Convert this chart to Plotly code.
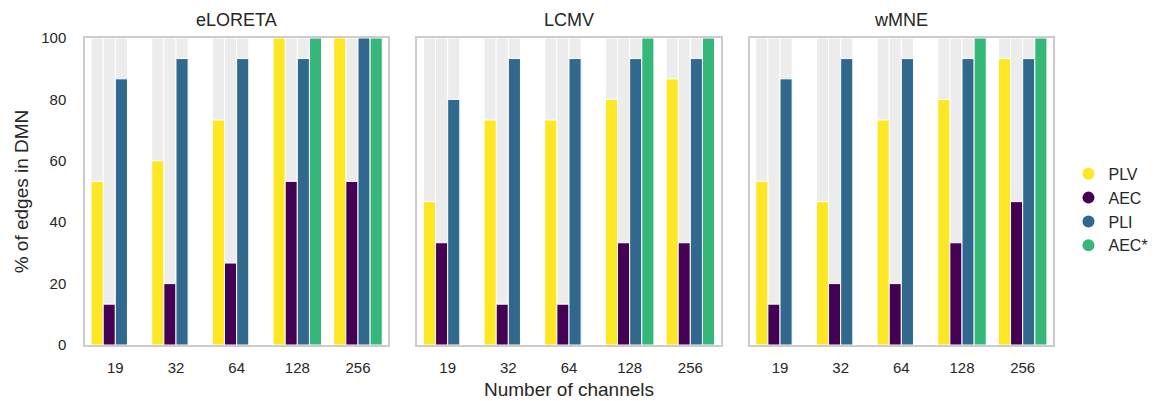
import plotly.graph_objects as go
from plotly.subplots import make_subplots

channels = ["19", "32", "64", "128", "256"]
methods = ["eLORETA", "LCMV", "wMNE"]
measures = ["PLV", "AEC", "PLI", "AEC*"]
colors = ["#fde725", "#440154", "#31688e", "#35b779"]

eloreta_plv = [53.3, 60.0, 73.3, 100.0, 100.0]
eloreta_aec = [13.3, 20.0, 26.7, 53.3, 53.3]
eloreta_pli = [86.7, 93.3, 93.3, 93.3, 100.0]
eloreta_aecs = [None, None, None, 100.0, 100.0]

lcmv_plv = [46.7, 73.3, 73.3, 80.0, 86.7]
lcmv_aec = [33.3, 13.3, 13.3, 33.3, 33.3]
lcmv_pli = [80.0, 93.3, 93.3, 93.3, 93.3]
lcmv_aecs = [None, None, None, 100.0, 100.0]

wmne_plv = [53.3, 46.7, 73.3, 80.0, 93.3]
wmne_aec = [13.3, 20.0, 20.0, 33.3, 46.7]
wmne_pli = [86.7, 93.3, 93.3, 93.3, 93.3]
wmne_aecs = [None, None, None, 100.0, 100.0]

data = {
    "eLORETA": [eloreta_plv, eloreta_aec, eloreta_pli, eloreta_aecs],
    "LCMV": [lcmv_plv, lcmv_aec, lcmv_pli, lcmv_aecs],
    "wMNE": [wmne_plv, wmne_aec, wmne_pli, wmne_aecs],
}
full_value = 100.0

fig = make_subplots(rows=1, cols=3, shared_yaxes=True, horizontal_spacing=0.03,
                    subplot_titles=methods)

for c, m in enumerate(methods, start=1):
    series = data[m]
    # background bars
    for k, (meas, vals) in enumerate(zip(measures, series)):
        bg = [full_value if v is not None else None for v in vals]
        fig.add_trace(go.Bar(x=channels, y=bg, offsetgroup=str(k),
                             marker=dict(color="#ececec", line=dict(color="white", width=1)),
                             showlegend=False, hoverinfo="skip"), row=1, col=c)
    for k, (meas, vals) in enumerate(zip(measures, series)):
        fig.add_trace(go.Bar(x=channels, y=vals, offsetgroup=str(k), name=meas,
                             marker=dict(color=colors[k], line=dict(color="white", width=1)),
                             showlegend=False), row=1, col=c)

for k, meas in enumerate(measures):
    fig.add_trace(go.Scatter(x=[None], y=[None], mode="markers", name=meas,
                             marker=dict(color=colors[k], size=9, symbol="circle")),
                  row=1, col=1)

fig.update_layout(
    width=1164, height=401,
    margin=dict(l=85, r=111, t=38, b=56, autoexpand=False),
    barmode="group", bargap=0.2, bargroupgap=0.0,
    plot_bgcolor="white", paper_bgcolor="white",
    font=dict(family="Liberation Sans, Arial, sans-serif", size=15, color="#262626"),
    legend=dict(x=1.016, y=0.44, xanchor="left", yanchor="middle",
                font=dict(size=16, color="#262626"), itemsizing="constant",
                tracegroupgap=0, bgcolor="rgba(0,0,0,0)"),
)

for c in range(1, 4):
    fig.update_xaxes(type="category", showline=True, mirror=True, linecolor="#cccccc",
                     linewidth=1.5, showgrid=False, ticks="", ticklabelstandoff=8,
                     automargin=False,
                     tickfont=dict(size=15, color="#262626"), row=1, col=c)
    fig.update_yaxes(range=[0, 100], showline=True, mirror=True, linecolor="#cccccc",
                     linewidth=1.5, showgrid=False, ticks="", tickvals=[0, 20, 40, 60, 80, 100],
                     ticklabelstandoff=14, tickfont=dict(size=15, color="#262626"),
                     automargin=False, zeroline=False, row=1, col=c)

fig.update_xaxes(title=dict(text="Number of channels", font=dict(size=19, color="#262626"),
                            standoff=8), row=1, col=2)
fig.update_yaxes(title=dict(text="% of edges in DMN", font=dict(size=19, color="#262626"),
                            standoff=8), row=1, col=1)

for ann in fig.layout.annotations:
    ann.font = dict(size=18, color="#262626", family="Liberation Sans, Arial, sans-serif")
    ann.yshift = 6

fig.write_html("out.html", config={"displayModeBar": False},
               post_script="document.body.style.margin='0';")
